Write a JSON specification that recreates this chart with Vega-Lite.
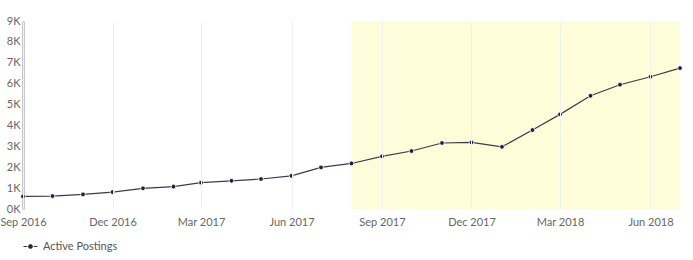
{
  "$schema": "https://vega.github.io/schema/vega-lite/v6.json",
  "width": 657,
  "height": 188,
  "autosize": "none",
  "padding": {"left": 23, "top": 21, "right": 13, "bottom": 51},
  "config": {
    "view": {"stroke": null},
    "font": "Lato",
    "axis": {"labelFont": "Lato", "labelFontSize": 11, "labelColor": "#666666"},
    "axisY": {"labelOverlap": false, "labelSeparation": 0},
    "legend": {"labelFont": "Lato", "labelFontSize": 11, "labelColor": "#555555"}
  },
  "datasets": {
    "series": [
      {"month": "2016-09-01T00:00", "value": 600, "series": "Active Postings"},
      {"month": "2016-10-01T00:00", "value": 620, "series": "Active Postings"},
      {"month": "2016-11-01T00:00", "value": 700, "series": "Active Postings"},
      {"month": "2016-12-01T00:00", "value": 810, "series": "Active Postings"},
      {"month": "2017-01-01T00:00", "value": 990, "series": "Active Postings"},
      {"month": "2017-02-01T00:00", "value": 1070, "series": "Active Postings"},
      {"month": "2017-03-01T00:00", "value": 1260, "series": "Active Postings"},
      {"month": "2017-04-01T00:00", "value": 1350, "series": "Active Postings"},
      {"month": "2017-05-01T00:00", "value": 1435, "series": "Active Postings"},
      {"month": "2017-06-01T00:00", "value": 1590, "series": "Active Postings"},
      {"month": "2017-07-01T00:00", "value": 1990, "series": "Active Postings"},
      {"month": "2017-08-01T00:00", "value": 2180, "series": "Active Postings"},
      {"month": "2017-09-01T00:00", "value": 2520, "series": "Active Postings"},
      {"month": "2017-10-01T00:00", "value": 2775, "series": "Active Postings"},
      {"month": "2017-11-01T00:00", "value": 3160, "series": "Active Postings"},
      {"month": "2017-12-01T00:00", "value": 3190, "series": "Active Postings"},
      {"month": "2018-01-01T00:00", "value": 2975, "series": "Active Postings"},
      {"month": "2018-02-01T00:00", "value": 3780, "series": "Active Postings"},
      {"month": "2018-03-01T00:00", "value": 4530, "series": "Active Postings"},
      {"month": "2018-04-01T00:00", "value": 5420, "series": "Active Postings"},
      {"month": "2018-05-01T00:00", "value": 5950, "series": "Active Postings"},
      {"month": "2018-06-01T00:00", "value": 6330, "series": "Active Postings"},
      {"month": "2018-07-01T00:00", "value": 6745, "series": "Active Postings"}
    ],
    "highlight": [
      {"start": "2017-08-01T00:00", "end": "2018-07-01T00:00"}
    ]
  },
  "layer": [
    {
      "data": {"name": "highlight"},
      "mark": {"type": "rect", "color": "#fefdd9", "opacity": 1},
      "encoding": {
        "x": {"field": "start", "type": "temporal"},
        "x2": {"field": "end"}
      }
    },
    {
      "data": {"name": "series"},
      "encoding": {
        "x": {
          "field": "month",
          "type": "temporal",
          "scale": {"domain": [{"year": 2016, "month": 9, "date": 1}, {"year": 2018, "month": 7, "date": 1}], "nice": false},
          "axis": {
            "title": null,
            "format": "%b %Y",
            "values": [
              {"year": 2016, "month": 9, "date": 1},
              {"year": 2016, "month": 12, "date": 1},
              {"year": 2017, "month": 3, "date": 1},
              {"year": 2017, "month": 6, "date": 1},
              {"year": 2017, "month": 9, "date": 1},
              {"year": 2017, "month": 12, "date": 1},
              {"year": 2018, "month": 3, "date": 1},
              {"year": 2018, "month": 6, "date": 1}
            ],
            "domain": false,
            "ticks": false,
            "grid": true,
            "gridColor": "#f0f0f0",
            "gridWidth": 1,
            "labelPadding": 7,
            "labelFlush": false,
            "labelOverlap": false,
            "zindex": 1
          }
        },
        "y": {
          "field": "value",
          "type": "quantitative",
          "scale": {"domain": [0, 9000], "nice": false},
          "axis": {
            "title": null,
            "values": [0, 1000, 2000, 3000, 4000, 5000, 6000, 7000, 8000, 9000],
            "labelExpr": "format(datum.value / 1000, 'd') + 'K'",
            "labelOverlap": false,
            "grid": false,
            "ticks": false,
            "domain": true,
            "domainColor": "#222222",
            "domainWidth": 1.5,
            "labelPadding": 3
          }
        }
      },
      "layer": [
        {
          "mark": {"type": "line", "strokeWidth": 1.2},
          "encoding": {
            "color": {
              "field": "series",
              "type": "nominal",
              "scale": {"range": ["#3a3c4a"]},
              "legend": {
                "title": null,
                "orient": "bottom",
                "offset": 12,
                "symbolType": "M-1,0H-0.45M0.45,0H1M-0.28,0A0.28,0.28 0 1,0 0.28,0A0.28,0.28 0 1,0 -0.28,0",
                "symbolSize": 196,
                "symbolStrokeWidth": 1,
                "labelOffset": 5,
                "encode": {"symbols": {"update": {"fill": {"value": "#1b2040"}, "stroke": {"value": "#3a3c4a"}}}}
              }
            }
          }
        },
        {
          "mark": {"type": "point", "filled": true, "color": "#1b2040", "size": 22, "stroke": "#ffffff", "strokeWidth": 0.8, "opacity": 1},
          "encoding": {}
        }
      ]
    }
  ]
}
